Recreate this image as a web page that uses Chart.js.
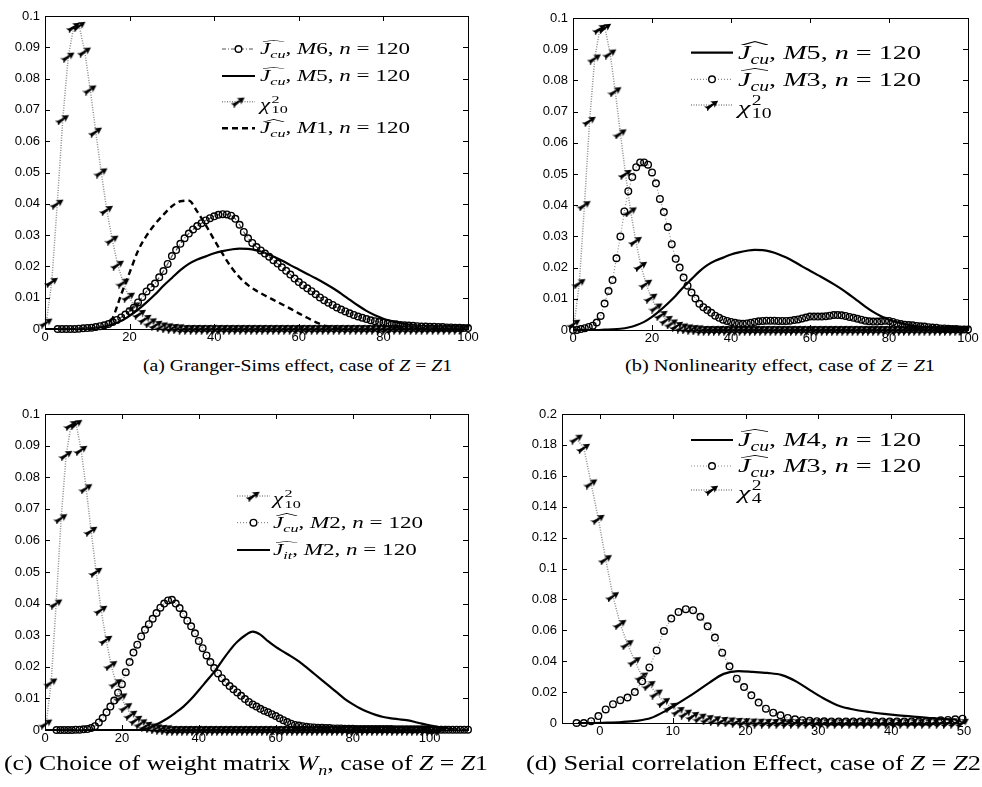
<!DOCTYPE html>
<html>
<head>
<meta charset="utf-8">
<script src="https://cdn.jsdelivr.net/npm/chart.js@4.4.1/dist/chart.umd.min.js"></script>
<style>
body{margin:0;background:#fff;width:982px;height:787px;position:relative;overflow:hidden}
.panel{position:absolute}
.leg,.cap{position:absolute;white-space:nowrap;font-family:"Liberation Serif",serif;color:#000;line-height:1}
.leg .row{position:absolute;left:0;transform-origin:0 50%}
.cap{transform-origin:0 50%}
sub,sup{line-height:0;font-size:0.7em}
.hat{position:relative;display:inline-block}
.hat::before{content:"";position:absolute;left:0.12em;top:-0.08em;width:0.95em;height:0.17em;
  background:url("data:image/svg+xml;utf8,<svg xmlns='http://www.w3.org/2000/svg' viewBox='0 0 20 6' preserveAspectRatio='none'><polyline points='0,5.5 10,0.8 20,5.5' fill='none' stroke='black' stroke-width='1.2'/></svg>") no-repeat;background-size:100% 100%}
.sc{display:inline-block;vertical-align:-0.3em;font-size:0.7em;line-height:0.95;text-align:left;margin-left:1px}
.sc span{display:block}
</style>
</head>
<body>

<div class="panel" id="boxA"><canvas id="chartA"></canvas></div>
<div class="panel" id="boxB"><canvas id="chartB"></canvas></div>
<div class="panel" id="boxC"><canvas id="chartC"></canvas></div>
<div class="panel" id="boxD"><canvas id="chartD"></canvas></div>

<!-- legends -->
<div class="leg" style="left:260px;top:0;font-size:16px">
  <div class="row fit" data-w="150" style="top:41px"><span class="hat"><i>J</i><sub><i>cu</i></sub></span>, <i>M</i>6, <i>n</i> = 120</div>
  <div class="row" style="top:68px"><span class="hat"><i>J</i><sub><i>cu</i></sub></span>, <i>M</i>5, <i>n</i> = 120</div>
  <div class="row" style="top:93.7px"><i>χ</i><span class="sc"><span>2</span><span>10</span></span></div>
  <div class="row" style="top:120.3px"><span class="hat"><i>J</i><sub><i>cu</i></sub></span>, <i>M</i>1, <i>n</i> = 120</div>
</div>
<div class="leg" style="left:738px;top:0;font-size:19.5px">
  <div class="row fit" data-w="183" style="top:43px"><span class="hat"><i>J</i><sub><i>cu</i></sub></span>, <i>M</i>5, <i>n</i> = 120</div>
  <div class="row" style="top:69.5px"><span class="hat"><i>J</i><sub><i>cu</i></sub></span>, <i>M</i>3, <i>n</i> = 120</div>
  <div class="row" style="top:95.2px"><i>χ</i><span class="sc"><span>2</span><span>10</span></span></div>
</div>
<div class="leg" style="left:273px;top:0;font-size:16px">
  <div class="row" style="top:488px"><i>χ</i><span class="sc"><span>2</span><span>10</span></span></div>
  <div class="row fit" data-w="150" style="top:514.7px"><span class="hat"><i>J</i><sub><i>cu</i></sub></span>, <i>M</i>2, <i>n</i> = 120</div>
  <div class="row" style="top:542px"><span class="hat"><i>J</i><sub><i>it</i></sub></span>, <i>M</i>2, <i>n</i> = 120</div>
</div>
<div class="leg" style="left:738px;top:0;font-size:19.5px">
  <div class="row fit" data-w="183" style="top:430.2px"><span class="hat"><i>J</i><sub><i>cu</i></sub></span>, <i>M</i>4, <i>n</i> = 120</div>
  <div class="row" style="top:456.2px"><span class="hat"><i>J</i><sub><i>cu</i></sub></span>, <i>M</i>3, <i>n</i> = 120</div>
  <div class="row" style="top:480.2px"><i>χ</i><span class="sc"><span>2</span><span>4</span></span></div>
</div>

<!-- captions -->
<div class="cap" data-w="309" style="left:143px;top:357px;font-size:17px">(a) Granger-Sims effect, case of <i>Z</i> = <i>Z</i>1</div>
<div class="cap" data-w="310" style="left:625px;top:357px;font-size:17px">(b) Nonlinearity effect, case of <i>Z</i> = <i>Z</i>1</div>
<div class="cap" data-w="484" style="left:4px;top:752px;font-size:22px">(c) Choice of weight matrix <i>W<sub>n</sub></i>, case of <i>Z</i> = <i>Z</i>1</div>
<div class="cap" data-w="455" style="left:526px;top:752px;font-size:22px">(d) Serial correlation Effect, case of <i>Z</i> = <i>Z</i>2</div>

<script>
// x grids
const unitX = [0,1,2,3,4,5,6,7,8,9,10,11,12,13,14,15,16,17,18,19,20,21,22,23,24,25,26,27,28,29,30,31,32,33,34,35,36,37,38,39,40,41,42,43,44,45,46,47,48,49,50,51,52,53,54,55,56,57,58,59,60,61,62,63,64,65,66,67,68,69,70,71,72,73,74,75,76,77,78,79,80,81,82,83,84,85,86,87,88,89,90,91,92,93,94,95,96,97,98,99,100,101,102,103,104,105,106,107,108,109,110];
const evenX = [0,2,4,6,8,10,12,14,16,18,20,22,24,26,28,30,32,34,36,38,40,42,44,46,48,50,52,54,56,58,60,62,64,66,68,70,72,74,76,78,80,82,84,86,88,90,92,94,96,98,100,102,104,106,108,110];
const chi10X = [0.3,1.6,2.9,4.2,5.5,6.8,8.1,9.4,10.7,12,13.3,14.6,15.9,17.2,18.5,19.8,21.1,22.4,23.7,25,26.3,27.6,28.9,30.2,31.5,32.8,34.1,35.4,36.7,38,39.3,40.6,41.9,43.2,44.5,45.8,47.1,48.4,49.7,51,52.3,53.6,54.9,56.2,57.5,58.8,60.1,61.4,62.7,64,65.3,66.6,67.9,69.2,70.5,71.8,73.1,74.4,75.7,77,78.3,79.6,80.9,82.2,83.5,84.8,86.1,87.4,88.7,90,91.3,92.6,93.9,95.2,96.5,97.8,99.1,100.4,101.7,103,104.3,105.6,106.9,108.2,109.5];
const dX = [-3.2,-2.2,-1.2,-0.2,0.8,1.8,2.8,3.8,4.8,5.8,6.8,7.8,8.8,9.8,10.8,11.8,12.8,13.8,14.8,15.8,16.8,17.8,18.8,19.8,20.8,21.8,22.8,23.8,24.8,25.8,26.8,27.8,28.8,29.8,30.8,31.8,32.8,33.8,34.8,35.8,36.8,37.8,38.8,39.8,40.8,41.8,42.8,43.8,44.8,45.8,46.8,47.8,48.8,49.8];
const m4X = [-3,-1,1,3,5,7,9,11,13,15,17,19,21,23,25,27,29,31,33,35,37,39,41,43,45,47,49];

// chi-square 10 density (panels a, b, c)
const chi10Y = [0.002,0.015,0.040,0.067,0.087,0.0965,0.0968,0.0886,0.0765,0.063,0.050,0.038,0.0285,0.0205,0.0148,0.0103,0.0072,0.0048,0.0032,0.0021,0.0013,0.0008,0.0005,0.0003,0.0002,
  0,0,0,0,0,0,0,0,0,0,0,0,0,0,0,0,0,0,0,0,0,0,0,0,0,0,0,0,0,0,0,0,0,0,0,0,0,0,0,0,0,0,0,0,0,0,0,0,0,0,0,0,0,0,0];

// (a) J_cu M6, on unitX
const m6Y = [null,null,null,0,0,0,0,0,0.0001,0.0002,0.0003,0.0004,0.0006,0.0009,0.0012,0.0016,0.0022,0.0029,0.0037,0.0046,0.0057,0.0068,0.0085,0.0102,0.012,0.0133,0.0145,0.0165,0.0185,0.0208,0.0233,0.0252,0.0272,0.029,0.0305,0.0318,0.0329,0.0338,0.0347,0.0354,0.036,0.0365,0.0367,0.0366,0.0362,0.0352,0.0333,0.031,0.029,0.0275,0.0262,0.0251,0.0241,0.0231,0.022,0.0209,0.0197,0.0186,0.0174,0.0161,0.015,0.014,0.013,0.0121,0.0111,0.0101,0.0092,0.0084,0.0077,0.0069,0.0062,0.0056,0.005,0.0045,0.004,0.0036,0.0032,0.0028,0.0025,0.0022,0.002,0.0018,0.0016,0.0015,0.0013,0.0012,0.0011,0.001,0.0009,0.0008,0.0008,0.0007,0.0007,0.0006,0.0006,0.0005,0.0005,0.0004,0.0004,0.0003,0.0003];
// (a),(b) J_cu M5, on evenX
const m5Y = [0,0,0,0,0.0001,0.0002,0.0004,0.0008,0.0015,0.0026,0.0042,0.0062,0.0085,0.011,0.0138,0.0163,0.0188,0.0208,0.0222,0.0232,0.0242,0.0249,0.0254,0.0257,0.0256,0.0251,0.0243,0.0232,0.0219,0.0204,0.019,0.0176,0.0162,0.0147,0.0131,0.0113,0.0094,0.0075,0.0058,0.0044,0.0033,0.0025,0.0019,0.0014,0.0011,0.0009,0.0007,0.0005,0.0004,0.0003,0.0002];
// (a) J_cu M1, on evenX
const m1Y = [null,null,null,null,null,null,null,0,0.0035,0.011,0.018,0.025,0.0298,0.0335,0.0365,0.0392,0.0408,0.041,0.0375,0.0332,0.0285,0.024,0.0198,0.0165,0.014,0.0122,0.0107,0.0093,0.0079,0.0065,0.005,0.0036,0.0022,0.0011,0.0004,0];
// (b) J_cu M3, on unitX
const m3bY = [0,0,0.0003,0.0006,0.001,0.0014,0.0024,0.0045,0.0085,0.0125,0.016,0.023,0.030,0.038,0.0445,0.049,0.0522,0.0537,0.0537,0.053,0.0505,0.047,0.042,0.0378,0.033,0.0275,0.0228,0.020,0.0168,0.0142,0.012,0.0101,0.0084,0.0073,0.0064,0.0055,0.0046,0.0039,0.0033,0.0029,0.0026,0.0023,0.0021,0.002,0.0021,0.0023,0.0026,0.0028,0.0029,0.003,0.003,0.003,0.0029,0.0029,0.0029,0.003,0.0032,0.0034,0.0037,0.004,0.0043,0.0043,0.0043,0.0043,0.0044,0.0046,0.0048,0.0048,0.0047,0.0045,0.0042,0.0039,0.0036,0.0033,0.003,0.0028,0.0027,0.0027,0.0028,0.003,0.0029,0.0026,0.0022,0.0019,0.0017,0.0016,0.0015,0.0013,0.0012,0.0011,0.0009,0.0008,0.0007,0.0005,0.0005,0.0004,0.0003,0.0003,0.0002,0.0002,0.0002];
// (c) J_cu M2, on unitX
const m2cuY = [null,null,null,0,0,0,0,0,0.0001,0.0001,0.0002,0.0003,0.0006,0.0012,0.0024,0.0038,0.0056,0.0074,0.0093,0.0118,0.0145,0.0183,0.0215,0.0245,0.027,0.0296,0.0317,0.0335,0.0352,0.037,0.0387,0.040,0.041,0.0412,0.040,0.0386,0.0366,0.0346,0.0328,0.0306,0.0282,0.0259,0.0236,0.0215,0.0196,0.0179,0.0164,0.0151,0.0139,0.0129,0.0119,0.0108,0.0098,0.0089,0.0081,0.0074,0.0067,0.0061,0.0056,0.005,0.0044,0.0037,0.0031,0.0025,0.002,0.0016,0.0014,0.0012,0.001,0.0009,0.0008,0.0007,0.0007,0.0006,0.0006,0.0005,0.0005,0.0005,0.0004,0.0004,0.0004,0.0003,0.0003,0.0003,0.0003,0.0003,0.0003,0.0003,0.0003,0.0003,0.0003,0.0002,0.0002,0.0002,0.0002,0.0002,0.0002,0.0002,0.0002,0.0002,0.0002,0.0001,0.0001,0.0001,0.0001,0.0001,0.0001,0.0001,0.0001,0.0001,0.0001];
// (c) J_it M2, on evenX
const jitY = [0,0,0,0,0,0,0,0,0,0,0,0,0,0.0003,0.0012,0.0024,0.0038,0.0055,0.0074,0.0098,0.0126,0.0155,0.0184,0.0218,0.0251,0.0279,0.0299,0.0311,0.0302,0.0281,0.0263,0.0248,0.0233,0.0217,0.0198,0.0178,0.0158,0.0138,0.0118,0.0098,0.0082,0.0068,0.0057,0.0048,0.0041,0.0037,0.0034,0.0031,0.0026,0.002,0.0015,0.001,0.0006,0.0003,0.0001,0];
// (d) series on dX / m4X
const m3dY = [0,0,0.0012,0.0045,0.0088,0.0122,0.0148,0.0165,0.020,0.027,0.036,0.047,0.0596,0.0676,0.0719,0.0737,0.073,0.0687,0.0626,0.0553,0.0455,0.0367,0.0287,0.0233,0.0179,0.0132,0.0093,0.0067,0.005,0.0033,0.0024,0.0018,0.0014,0.0012,0.0011,0.001,0.001,0.001,0.001,0.001,0.001,0.001,0.001,0.001,0.001,0.001,0.001,0.001,0.001,0.0013,0.0017,0.002,0.0024,0.0028];
const chi4Y = [0.184,0.178,0.155,0.132,0.106,0.082,0.064,0.051,0.040,0.030,0.0245,0.019,0.0135,0.0104,0.0077,0.006,0.0045,0.0034,0.0025,0.0018,0.0013,0.001,0.0007,0.0005,0.0003,0.0002,0.0001,0,0,0,0,0,0,0,0,0,0,0,0,0,0,0,0,0,0,0,0,0,0,0,0,0,0,0];
const m4Y = [0,0,0.0002,0.0006,0.0014,0.0032,0.0078,0.0135,0.0195,0.026,0.0318,0.0336,0.0331,0.0324,0.031,0.0268,0.0208,0.0152,0.0108,0.0086,0.0071,0.0059,0.0049,0.0041,0.0034,0.0027,0.0023];

// tilted dart marker used by the chi-square curves
function dart() {
  const c = document.createElement('canvas');
  c.width = 16; c.height = 12;
  const g = c.getContext('2d');
  g.translate(8, 6);
  g.rotate(-0.6);
  g.fillStyle = '#000';
  g.beginPath();
  g.moveTo(7.5, 0); g.lineTo(0.5, -3.8); g.lineTo(1.8, -1); g.lineTo(-5, -1.7); g.lineTo(-7.5, -3.2);
  g.lineTo(-6.2, 0); g.lineTo(-7.5, 3.2); g.lineTo(-5, 1.7); g.lineTo(1.8, 1); g.lineTo(0.5, 3.8);
  g.closePath(); g.fill();
  return c;
}
const DART = dart();

function pts(xs, ys, xmax) {
  const out = [];
  for (let i = 0; i < Math.min(xs.length, ys.length); i++) {
    if (ys[i] === null || xs[i] > xmax) continue;
    out.push({x: xs[i], y: ys[i]});
  }
  return out;
}

const chiStyle = {borderColor: '#8c8c8c', borderWidth: 1.5, borderDash: [1, 1.5], pointStyle: DART, pointRadius: 5, tension: 0};
const circStyle = {borderColor: '#8c8c8c', borderWidth: 1.2, borderDash: [1, 2], pointStyle: 'circle', pointRadius: 3.3,
  pointBorderWidth: 1.4, pointBorderColor: '#000', pointBackgroundColor: 'rgba(255,255,255,0)', tension: 0};
const solidStyle = {borderColor: '#000', borderWidth: 2.2, pointRadius: 0, cubicInterpolationMode: 'monotone'};
const dashStyle = {borderColor: '#000', borderWidth: 2.4, borderDash: [6, 4], pointRadius: 0, cubicInterpolationMode: 'monotone'};

// box + inward ticks, MATLAB style, plus the legend samples
const frame = {
  id: 'frame',
  afterDatasetsDraw(chart) {
    const {ctx, chartArea: a, scales} = chart;
    ctx.save();
    ctx.strokeStyle = '#000';
    ctx.lineWidth = 1;
    ctx.setLineDash([]);
    ctx.strokeRect(a.left + 0.5, a.top + 0.5, a.right - a.left, a.bottom - a.top);
    ctx.beginPath();
    scales.x.ticks.forEach(t => {
      const px = Math.round(scales.x.getPixelForValue(t.value)) + 0.5;
      ctx.moveTo(px, a.bottom); ctx.lineTo(px, a.bottom - 5);
      ctx.moveTo(px, a.top); ctx.lineTo(px, a.top + 5);
    });
    scales.y.ticks.forEach(t => {
      const py = Math.round(scales.y.getPixelForValue(t.value)) + 0.5;
      ctx.moveTo(a.left, py); ctx.lineTo(a.left + 5, py);
      ctx.moveTo(a.right, py); ctx.lineTo(a.right - 5, py);
    });
    ctx.stroke();
    ctx.restore();
  },
  afterDraw(chart, args, opts) {
    const {ctx, chartArea: a} = chart;
    (opts.rows || []).forEach(r => {
      const ds = chart.data.datasets[r.ds];
      const y = a.top + r.dy, x1 = a.left + r.dx1, x2 = a.left + r.dx2;
      ctx.save();
      ctx.strokeStyle = ds.borderColor;
      ctx.lineWidth = ds.borderWidth;
      ctx.setLineDash(ds.borderDash || []);
      ctx.beginPath(); ctx.moveTo(x1, y); ctx.lineTo(x2, y); ctx.stroke();
      ctx.setLineDash([]);
      const xm = (x1 + x2) / 2;
      if (ds.pointStyle === 'circle') {
        ctx.fillStyle = '#fff';
        ctx.strokeStyle = '#000';
        ctx.lineWidth = ds.pointBorderWidth;
        ctx.beginPath(); ctx.arc(xm, y, ds.pointRadius, 0, Math.PI * 2); ctx.fill(); ctx.stroke();
      } else if (ds.pointStyle === DART) {
        ctx.drawImage(DART, xm - 8, y - 6);
      }
      ctx.restore();
    });
  }
};

const YW = 44, XH = 24, PT = 14, PR = 16;

function panel(boxId, canvasId, area, xs, ys, datasets, rows) {
  const w = area.r - area.l + YW + PR, h = area.b - area.t + PT + XH;
  const box = document.getElementById(boxId);
  box.style.left = (area.l - YW) + 'px';
  box.style.top = (area.t - PT) + 'px';
  const cv = document.getElementById(canvasId);
  cv.width = w; cv.height = h;
  cv.style.width = w + 'px'; cv.style.height = h + 'px';
  const tickFont = {family: '"Liberation Sans", Arial, sans-serif', size: 13};
  return new Chart(cv, {
    type: 'line',
    data: {datasets: datasets.map(d => Object.assign({clip: false, fill: false}, d))},
    options: {
      responsive: false,
      animation: false,
      events: [],
      devicePixelRatio: 1,
      layout: {padding: {top: PT, right: PR, left: 0, bottom: 0}},
      scales: {
        x: {type: 'linear', min: xs.min, max: xs.max,
          ticks: {stepSize: xs.step, includeBounds: false, padding: 1, color: '#000', font: tickFont, maxRotation: 0, autoSkip: false},
          grid: {display: false, drawTicks: false}, border: {display: false},
          afterFit: s => { s.height = XH; }},
        y: {type: 'linear', min: ys.min, max: ys.max,
          ticks: {stepSize: ys.step, includeBounds: false, padding: 5, color: '#000', font: tickFont, autoSkip: false,
            callback: v => String(+v.toFixed(3))},
          grid: {display: false, drawTicks: false}, border: {display: false},
          afterFit: s => { s.width = YW; }}
      },
      plugins: {legend: {display: false}, tooltip: {enabled: false}, frame: {rows}}
    },
    plugins: [frame]
  });
}

// (a) Granger-Sims effect
panel('boxA', 'chartA', {l: 45, t: 16, r: 468, b: 329},
  {min: 0, max: 100, step: 20}, {min: 0, max: 0.1, step: 0.01},
  [
    Object.assign({}, circStyle, {data: pts(unitX, m6Y, 100), borderDash: [4, 2, 1, 2], borderColor: '#555'}),
    Object.assign({}, solidStyle, {data: pts(evenX, m5Y, 100)}),
    Object.assign({}, chiStyle, {data: pts(chi10X, chi10Y, 100)}),
    Object.assign({}, dashStyle, {data: pts(evenX, m1Y, 100)})
  ],
  [{ds: 0, dx1: 177, dx2: 210, dy: 33}, {ds: 1, dx1: 177, dx2: 210, dy: 60},
   {ds: 2, dx1: 177, dx2: 210, dy: 85.7}, {ds: 3, dx1: 177, dx2: 210, dy: 112.3}]);

// (b) Nonlinearity effect
panel('boxB', 'chartB', {l: 573, t: 18, r: 968, b: 330},
  {min: 0, max: 100, step: 20}, {min: 0, max: 0.1, step: 0.01},
  [
    Object.assign({}, solidStyle, {data: pts(evenX, m5Y, 100)}),
    Object.assign({}, circStyle, {data: pts(unitX, m3bY, 100)}),
    Object.assign({}, chiStyle, {data: pts(chi10X, chi10Y, 100)})
  ],
  [{ds: 0, dx1: 118, dx2: 160, dy: 34.7}, {ds: 1, dx1: 118, dx2: 160, dy: 61.3}, {ds: 2, dx1: 118, dx2: 160, dy: 87}]);

// (c) Choice of weight matrix
panel('boxC', 'chartC', {l: 45, t: 414, r: 468, b: 730},
  {min: 0, max: 110, step: 20}, {min: 0, max: 0.1, step: 0.01},
  [
    Object.assign({}, chiStyle, {data: pts(chi10X, chi10Y, 110)}),
    Object.assign({}, circStyle, {data: pts(unitX, m2cuY, 110)}),
    Object.assign({}, solidStyle, {data: pts(evenX, jitY, 110)})
  ],
  [{ds: 0, dx1: 192, dx2: 225, dy: 82}, {ds: 1, dx1: 192, dx2: 225, dy: 108.7}, {ds: 2, dx1: 192, dx2: 225, dy: 136}]);

// (d) Serial correlation effect
panel('boxD', 'chartD', {l: 562, t: 414, r: 964, b: 723},
  {min: -5.2, max: 50, step: 10}, {min: 0, max: 0.2, step: 0.02},
  [
    Object.assign({}, solidStyle, {data: pts(m4X, m4Y, 50)}),
    Object.assign({}, circStyle, {data: pts(dX, m3dY, 50)}),
    Object.assign({}, chiStyle, {data: pts(dX, chi4Y, 50)})
  ],
  [{ds: 0, dx1: 129, dx2: 171, dy: 26}, {ds: 1, dx1: 129, dx2: 171, dy: 52}, {ds: 2, dx1: 129, dx2: 171, dy: 76}]);

// squeeze the text blocks to the widths seen in the figure
document.querySelectorAll('.cap').forEach(el => {
  const k = +el.dataset.w / el.getBoundingClientRect().width;
  el.style.transform = 'scaleX(' + k + ')';
});
document.querySelectorAll('.leg').forEach(leg => {
  const ref = leg.querySelector('.fit');
  const k = +ref.dataset.w / ref.getBoundingClientRect().width;
  leg.querySelectorAll('.row').forEach(r => { r.style.transform = 'scaleX(' + k + ')'; });
});
</script>
</body>
</html>
